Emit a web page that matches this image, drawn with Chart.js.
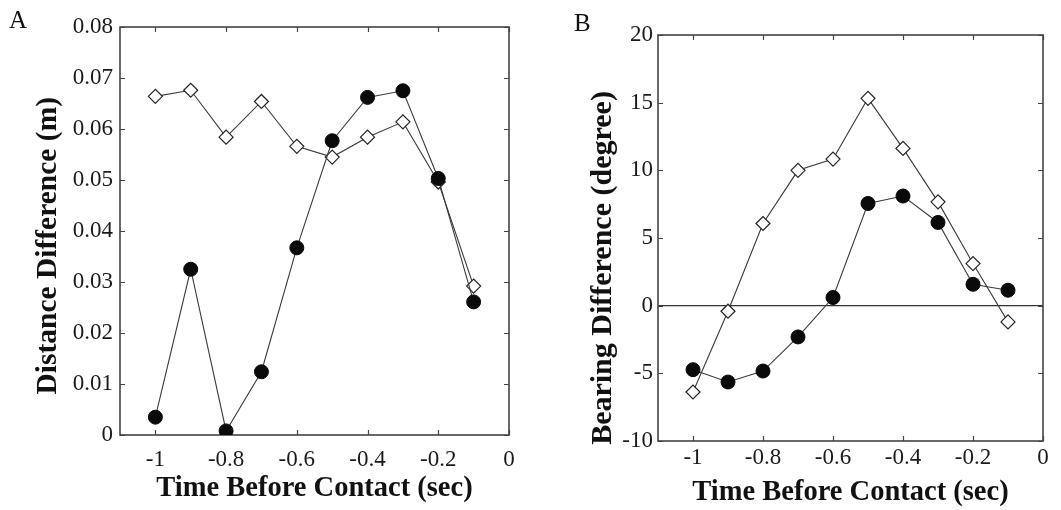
<!DOCTYPE html>
<html><head><meta charset="utf-8">
<script src="https://cdn.jsdelivr.net/npm/chart.js@4"></script>
<style>
body{margin:0;background:#fff;width:1061px;height:510px;overflow:hidden;position:relative;font-family:"Liberation Serif",serif;}
canvas{position:absolute;top:0;}
.lab{position:absolute;font-family:"Liberation Serif",serif;font-size:25px;color:#111;}
</style></head><body>
<canvas id="cA" width="530" height="510" style="left:0"></canvas>
<canvas id="cB" width="531" height="510" style="left:530px"></canvas>
<div class="lab" style="left:9px;top:6px">A</div>
<div class="lab" style="left:574px;top:9px">B</div>
<script>
const times = [-1, -0.9, -0.8, -0.7, -0.6, -0.5, -0.4, -0.3, -0.2, -0.1];
const xTicks = [-1, -0.8, -0.6, -0.4, -0.2, 0];
const distFilled = [0.0035, 0.0325, 0.0008, 0.0124, 0.0367, 0.0577, 0.0662, 0.0675, 0.0503, 0.0261];
const distOpen = [0.0664, 0.0676, 0.0584, 0.0654, 0.0566, 0.0545, 0.0584, 0.0614, 0.0496, 0.0292];
const distTicks = [0, 0.01, 0.02, 0.03, 0.04, 0.05, 0.06, 0.07, 0.08];
const bearFilled = [-4.73, -5.64, -4.83, -2.31, 0.6, 7.55, 8.1, 6.15, 1.58, 1.14];
const bearOpen = [-6.38, -0.41, 6.07, 10.0, 10.83, 15.32, 11.62, 7.67, 3.11, -1.2];
const bearTicks = [-10, -5, 0, 5, 10, 15, 20];

const serif = '"Liberation Serif", "Times New Roman", serif';
const NB = '\u00A0';
const frame = {
  id: 'frame',
  beforeDatasetsDraw(chart) {
    const {ctx, chartArea: a, scales: {x, y}} = chart;
    ctx.save();
    ctx.strokeStyle = '#444';
    ctx.lineWidth = 1.2;
    ctx.beginPath();
    const L = 5;
    x.ticks.forEach(t => {
      const p = Math.round(x.getPixelForValue(t.value)) + 0.5;
      ctx.moveTo(p, a.bottom); ctx.lineTo(p, a.bottom - L);
      ctx.moveTo(p, a.top); ctx.lineTo(p, a.top + L);
    });
    y.ticks.forEach(t => {
      const p = Math.round(y.getPixelForValue(t.value)) + 0.5;
      ctx.moveTo(a.left, p); ctx.lineTo(a.left + L, p);
      ctx.moveTo(a.right, p); ctx.lineTo(a.right - L, p);
    });
    ctx.stroke();
    ctx.lineWidth = 1.6;
    ctx.strokeRect(a.left, a.top, a.right - a.left, a.bottom - a.top);
    ctx.restore();
  }
};

function toPts(vals) { return times.map((t, i) => ({x: t, y: vals[i]})); }

function make(id, filled, open, yTicks, yMin, yMax, yTitle, dims, fmt, zeroLine) {
  new Chart(document.getElementById(id), {
    type: 'line',
    data: {
      datasets: [
        {data: toPts(filled), borderColor: '#3a3a3a', borderWidth: 1.1, pointStyle: 'circle',
         pointRadius: 7, pointBackgroundColor: '#0a0a0a', pointBorderColor: '#0a0a0a', pointBorderWidth: 1, tension: 0},
        {data: toPts(open), borderColor: '#3a3a3a', borderWidth: 1.1, pointStyle: 'rectRot',
         pointRadius: 7, pointBackgroundColor: '#ffffff', pointBorderColor: '#222', pointBorderWidth: 1.2, tension: 0}
      ]
    },
    options: {
      responsive: false, animation: false, devicePixelRatio: 1,
      layout: {padding: {top: dims.top, right: dims.right, left: 0, bottom: 0}},
      plugins: {legend: {display: false}, tooltip: {enabled: false}},
      scales: {
        x: {
          type: 'linear', min: -1.1, max: 0,
          afterBuildTicks: s => { s.ticks = xTicks.map(v => ({value: v})); },
          afterFit: s => { s.height = dims.xh; },
          grid: {display: false, drawTicks: false, tickLength: 0}, border: {display: false},
          ticks: {padding: dims.xpad, color: '#1a1a1a', font: {family: serif, size: 23},
                  callback: v => String(v)},
          title: {display: true, text: 'Time Before Contact (sec)', color: '#111',
                  font: {family: serif, size: 28.5, weight: 'bold'}, padding: {top: 0, bottom: dims.xtpad}}
        },
        y: {
          type: 'linear', min: yMin, max: yMax,
          afterBuildTicks: s => { s.ticks = yTicks.map(v => ({value: v})); },
          afterFit: s => { s.width = dims.yw; },
          grid: zeroLine ? {display: true, drawTicks: false, tickLength: 0, lineWidth: 1.3,
                  color: c => (c.tick && c.tick.value === 0) ? '#333' : 'rgba(0,0,0,0)'}
                : {display: false, drawTicks: false, tickLength: 0},
          border: {display: false},
          ticks: {padding: dims.ypad, color: '#1a1a1a', font: {family: serif, size: 23}, callback: fmt},
          title: {display: true, text: yTitle, color: '#111',
                  font: {family: serif, size: dims.ytsize, weight: 'bold'}, padding: {top: dims.ytpad, bottom: 0}}
        }
      }
    },
    plugins: [frame]
  });
}

make('cA', distFilled, distOpen, distTicks, 0, 0.08, 'Distance Difference (m)' + NB.repeat(4),
  {top: 27, right: 21, xh: 75, yw: 120, xpad: 11, xtpad: 4, ypad: 7, ytpad: 31, ytsize: 29.5},
  v => v === 0 ? '0' : v.toFixed(2), false);
make('cB', bearFilled, bearOpen, bearTicks, -10, 20, 'Bearing Difference (degree)' + NB.repeat(8),
  {top: 35, right: 18, xh: 69, yw: 128, xpad: 3, xtpad: 0, ypad: 5, ytpad: 55, ytsize: 30},
  v => String(v), true);
</script>
</body></html>
